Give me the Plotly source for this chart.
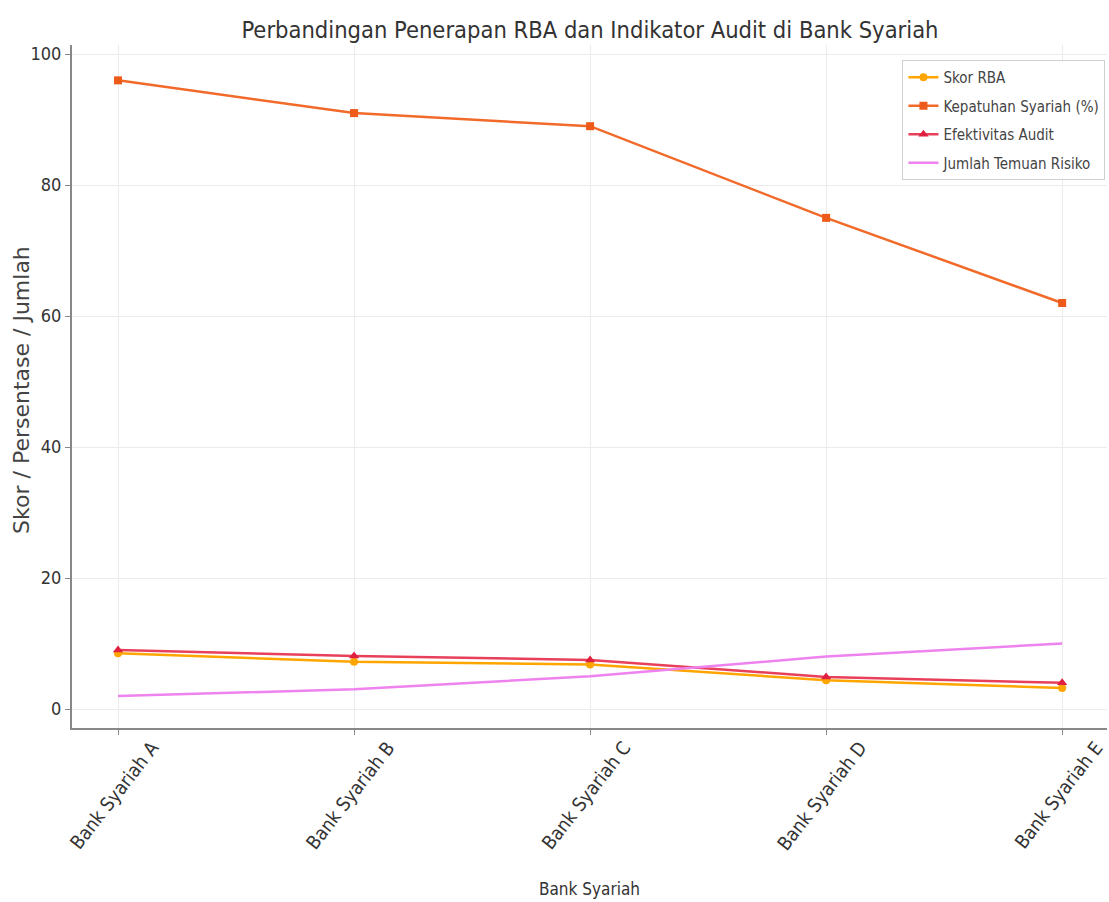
import plotly.graph_objects as go

categories = ["Bank Syariah A", "Bank Syariah B", "Bank Syariah C", "Bank Syariah D", "Bank Syariah E"]
skor_rba = [8.5, 7.2, 6.8, 4.4, 3.2]
kepatuhan = [96, 91, 89, 75, 62]
efektivitas = [9.0, 8.1, 7.5, 4.9, 4.0]
temuan = [2, 3, 5, 8, 10]

FONT = "DejaVu Sans Condensed, Liberation Sans Narrow, DejaVu Sans, sans-serif"

fig = go.Figure()
fig.add_trace(go.Scatter(x=categories, y=skor_rba, name="Skor RBA", mode="lines+markers", legendgroup="a",
                         line=dict(color="#FFA500", width=2.5), marker=dict(symbol="circle", size=8, color="#FFA500")))
fig.add_trace(go.Scatter(x=categories, y=kepatuhan, name="Kepatuhan Syariah (%)", mode="lines+markers", legendgroup="b",
                         line=dict(color="#F26A2A", width=2.5), marker=dict(symbol="square", size=8, color="#EE5A1A")))
fig.add_trace(go.Scatter(x=categories, y=efektivitas, name="Efektivitas Audit", mode="lines+markers", legendgroup="c",
                         line=dict(color="#E8405A", width=2.5), marker=dict(symbol="triangle-up", size=9, color="#E02040")))
fig.add_trace(go.Scatter(x=categories, y=temuan, name="Jumlah Temuan Risiko", mode="lines", legendgroup="d",
                         line=dict(color="#EE82EE", width=2.5)))

fig.update_layout(
    width=1109, height=902,
    paper_bgcolor="white", plot_bgcolor="white",
    margin=dict(l=72, r=2, t=45, b=174),
    font=dict(family=FONT, color="#333333", size=15),
    title=dict(text="Perbandingan Penerapan RBA dan Indikator Audit di Bank Syariah",
               x=0.532, xanchor="center", y=0.967, yanchor="middle",
               font=dict(size=23.5, color="#333333", family=FONT)),
    legend=dict(x=0.9985, y=0.978, xanchor="right", yanchor="top",
                bgcolor="rgba(255,255,255,0.9)", bordercolor="#d0d0d0", borderwidth=1,
                font=dict(size=15, color="#444444", family=FONT), tracegroupgap=6,
                itemwidth=30),
    showlegend=True,
    annotations=[dict(text="Skor / Persentase / Jumlah", xref="paper", yref="paper",
                      x=-0.0483, y=0.495, xanchor="center", yanchor="middle", textangle=-90,
                      showarrow=False, font=dict(size=22, color="#444444", family="DejaVu Sans, sans-serif"))],
)
fig.update_xaxes(range=[-0.195, 4.19], showline=True, linecolor="#888888", linewidth=2,
                 showgrid=True, gridcolor="#ebebeb", gridwidth=1, tickangle=-52,
                 ticks="outside", ticklen=5, tickcolor="#888888", tickfont=dict(size=19, color="#333333"),
                 ticklabelshift=34, ticklabelstandoff=-6, automargin=False,
                 title=dict(text="Bank Syariah", font=dict(size=17, color="#333333"), standoff=30),
                 zeroline=False)
fig.update_yaxes(range=[-2.9, 101.4], showline=True, linecolor="#888888", linewidth=2,
                 showgrid=True, gridcolor="#ebebeb", gridwidth=1, dtick=20,
                 ticks="outside", ticklen=5, tickcolor="#888888", tickfont=dict(size=18, color="#333333"),
                 automargin=False, zeroline=False)

fig.write_html("out.html")
